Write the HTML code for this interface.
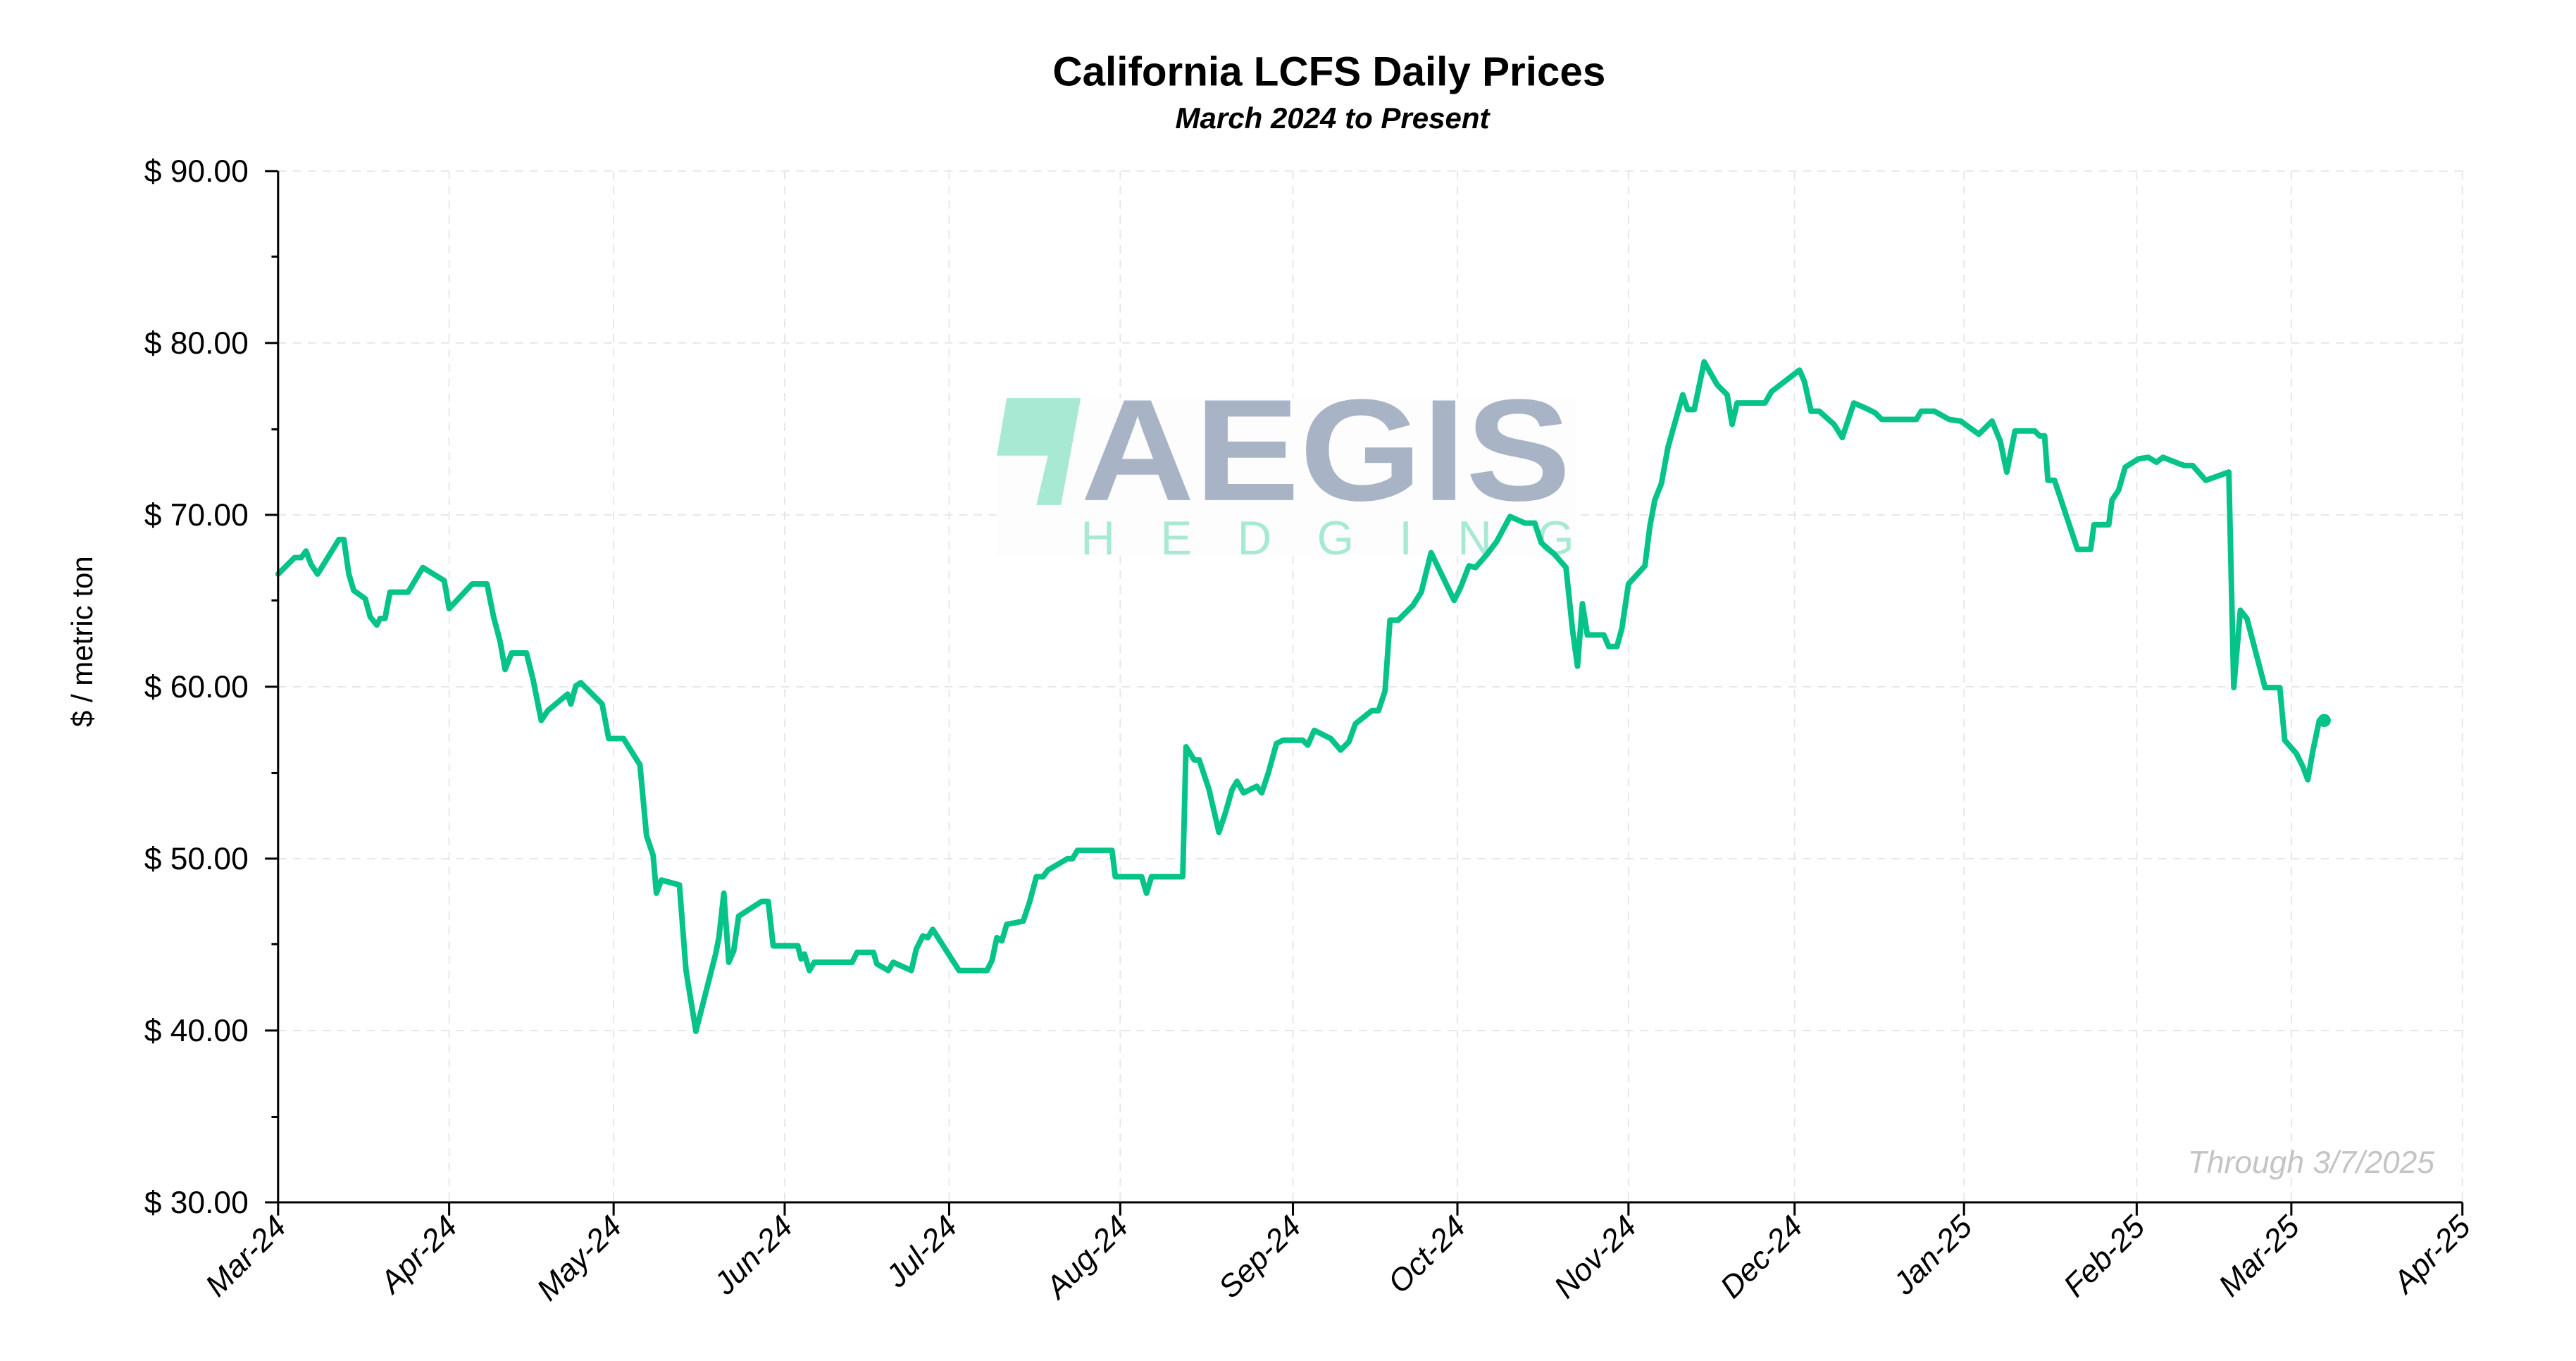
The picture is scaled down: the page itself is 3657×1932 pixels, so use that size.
<!DOCTYPE html>
<html><head><meta charset="utf-8"><style>
html,body{margin:0;padding:0;background:#fff;}
svg{display:block;}
text{font-family:"Liberation Sans",sans-serif;}
</style></head><body>
<svg width="3657" height="1932" viewBox="0 0 1566 827.4" xmlns="http://www.w3.org/2000/svg">
<rect width="1566" height="827.4" fill="#fff"/>
<!-- grid -->
<g stroke="#e6e6e6" stroke-width="0.8" stroke-dasharray="5,4">
<line x1="169" y1="104" x2="1497" y2="104"/>
<line x1="169" y1="208.5" x2="1497" y2="208.5"/>
<line x1="169" y1="313" x2="1497" y2="313"/>
<line x1="169" y1="417.5" x2="1497" y2="417.5"/>
<line x1="169" y1="522" x2="1497" y2="522"/>
<line x1="169" y1="626.5" x2="1497" y2="626.5"/>
<line x1="273" y1="104" x2="273" y2="731"/>
<line x1="373" y1="104" x2="373" y2="731"/>
<line x1="477" y1="104" x2="477" y2="731"/>
<line x1="577" y1="104" x2="577" y2="731"/>
<line x1="681" y1="104" x2="681" y2="731"/>
<line x1="786" y1="104" x2="786" y2="731"/>
<line x1="886" y1="104" x2="886" y2="731"/>
<line x1="990" y1="104" x2="990" y2="731"/>
<line x1="1091" y1="104" x2="1091" y2="731"/>
<line x1="1194" y1="104" x2="1194" y2="731"/>
<line x1="1299" y1="104" x2="1299" y2="731"/>
<line x1="1393" y1="104" x2="1393" y2="731"/>
<line x1="1497" y1="104" x2="1497" y2="731"/>
</g>
<!-- logo -->
<g>
<rect x="606" y="242" width="352" height="96" fill="#fdfdfd"/>
<polygon points="612,242 657,242 645,307 630,307 637,277 606,277" fill="#a8e9d4"/>
<text x="657" y="304" font-size="88" font-weight="bold" fill="#a8b4c6" textLength="298" lengthAdjust="spacingAndGlyphs">AEGIS</text>
<text x="657" y="337" font-size="29" fill="#a8e9d4" textLength="300" lengthAdjust="spacing">HEDGING</text>
</g>
<!-- series -->
<polyline fill="none" stroke="#05c389" stroke-width="3.4" stroke-linejoin="round" stroke-linecap="round" points="169,349 175,343 179,339 183,339 186,335 189,343 193,349 206,328 209,328 212,349 215,359 222,364 225,375 229,380 231,376 234,376 237,360 248,360 257,345 270,353 273,370 287,355 296,355 300,375 304,390 307,407 311,397 320,397 324,413 329,438 333,432 345,422 347,428 350,417 353,415 358,420 366,428 370,449 379,449 389,465 393,508 397,520 399,543 402,535 413,538 417,590 423,627 435,580 437,570 440,543 443,585 446,578 449,557 463,548 467,548 470,575 485,575 487,583 489,580 492,590 495,585 518,585 521,579 531,579 533,586 540,590 543,585 554,590 557,577 561,569 564,570 567,565 583,590 600,590 603,584 606,570 609,572 612,562 622,560 626,548 630,533 634,533 637,529 649,522 652,522 655,517 676,517 678,533 694,533 697,543 700,533 719,533 721,454 726,462 729,462 735,480 741,506 745,494 749,480 752,475 756,482 764,478 767,482 771,470 776,452 780,450 792,450 795,453 799,444 809,449 815,456 820,451 824,440 834,432 838,432 842,420 845,377 850,377 859,368 864,360 870,336 884,365 888,357 893,344 897,345 904,337 910,329 918,314 927,318 933,318 937,330 945,337 952,345 956,383 959,405 962,367 965,386 975,386 978,393 983,393 986,382 990,355 1000,344 1003,320 1006,304 1010,294 1014,272 1023,240 1026,249 1030,249 1036,220 1044,234 1050,240 1053,258 1056,245 1073,245 1077,238 1094,225 1097,232 1101,250 1106,250 1115,258 1120,266 1127,245 1134,248 1140,251 1144,255 1165,255 1168,250 1176,250 1185,255 1192,256 1203,264 1211,256 1216,268 1220,287 1225,262 1237,262 1240,265 1243,265 1245,292 1249,292 1263,334 1271,334 1273,319 1282,319 1284,304 1288,298 1292,284 1300,279 1306,278 1311,281 1315,278 1325,282 1328,283 1333,283 1341,292 1355,287 1358,418 1362,371 1366,376 1377,418 1386,418 1389,450 1396,458 1400,466 1403,474 1406,457 1410,438 1414,438"/>
<circle cx="1413" cy="438" r="4" fill="#05c389"/>
<!-- axes -->
<g stroke="#000" stroke-width="1.3">
<line x1="169" y1="104" x2="169" y2="731"/>
<line x1="169" y1="731" x2="1497" y2="731"/>
<line x1="161" y1="104" x2="169" y2="104"/>
<line x1="161" y1="208.5" x2="169" y2="208.5"/>
<line x1="161" y1="313" x2="169" y2="313"/>
<line x1="161" y1="417.5" x2="169" y2="417.5"/>
<line x1="161" y1="522" x2="169" y2="522"/>
<line x1="161" y1="626.5" x2="169" y2="626.5"/>
<line x1="161" y1="731" x2="169" y2="731"/>
<line x1="165" y1="156" x2="169" y2="156"/>
<line x1="165" y1="261" x2="169" y2="261"/>
<line x1="165" y1="365" x2="169" y2="365"/>
<line x1="165" y1="470" x2="169" y2="470"/>
<line x1="165" y1="574" x2="169" y2="574"/>
<line x1="165" y1="679" x2="169" y2="679"/>
<line x1="169" y1="731" x2="169" y2="739"/>
<line x1="273" y1="731" x2="273" y2="739"/>
<line x1="373" y1="731" x2="373" y2="739"/>
<line x1="477" y1="731" x2="477" y2="739"/>
<line x1="577" y1="731" x2="577" y2="739"/>
<line x1="681" y1="731" x2="681" y2="739"/>
<line x1="786" y1="731" x2="786" y2="739"/>
<line x1="886" y1="731" x2="886" y2="739"/>
<line x1="990" y1="731" x2="990" y2="739"/>
<line x1="1091" y1="731" x2="1091" y2="739"/>
<line x1="1194" y1="731" x2="1194" y2="739"/>
<line x1="1299" y1="731" x2="1299" y2="739"/>
<line x1="1393" y1="731" x2="1393" y2="739"/>
<line x1="1497" y1="731" x2="1497" y2="739"/>
</g>
<g font-size="19" fill="#000" text-anchor="end">
<text x="151" y="110.5">$ 90.00</text>
<text x="151" y="215">$ 80.00</text>
<text x="151" y="319.5">$ 70.00</text>
<text x="151" y="424">$ 60.00</text>
<text x="151" y="528.5">$ 50.00</text>
<text x="151" y="633">$ 40.00</text>
<text x="151" y="737.5">$ 30.00</text>
</g>
<g font-size="19" fill="#000" text-anchor="end" font-style="italic">
<text transform="translate(175,747) rotate(-45)">Mar-24</text>
<text transform="translate(279,747) rotate(-45)">Apr-24</text>
<text transform="translate(379,747) rotate(-45)">May-24</text>
<text transform="translate(483,747) rotate(-45)">Jun-24</text>
<text transform="translate(583,747) rotate(-45)">Jul-24</text>
<text transform="translate(687,747) rotate(-45)">Aug-24</text>
<text transform="translate(792,747) rotate(-45)">Sep-24</text>
<text transform="translate(892,747) rotate(-45)">Oct-24</text>
<text transform="translate(996,747) rotate(-45)">Nov-24</text>
<text transform="translate(1097,747) rotate(-45)">Dec-24</text>
<text transform="translate(1200,747) rotate(-45)">Jan-25</text>
<text transform="translate(1305,747) rotate(-45)">Feb-25</text>
<text transform="translate(1399,747) rotate(-45)">Mar-25</text>
<text transform="translate(1503,747) rotate(-45)">Apr-25</text>
</g>
<text transform="translate(56,390) rotate(-90)" font-size="18" text-anchor="middle" fill="#000">$ / metric ton</text>
<text x="808" y="52" font-size="25" font-weight="bold" text-anchor="middle" fill="#000">California LCFS Daily Prices</text>
<text x="810" y="78" font-size="18" font-weight="bold" font-style="italic" text-anchor="middle" fill="#000">March 2024 to Present</text>
<text x="1480" y="713" font-size="19" font-style="italic" text-anchor="end" fill="#c4c4c4">Through 3/7/2025</text>
</svg>
</body></html>
